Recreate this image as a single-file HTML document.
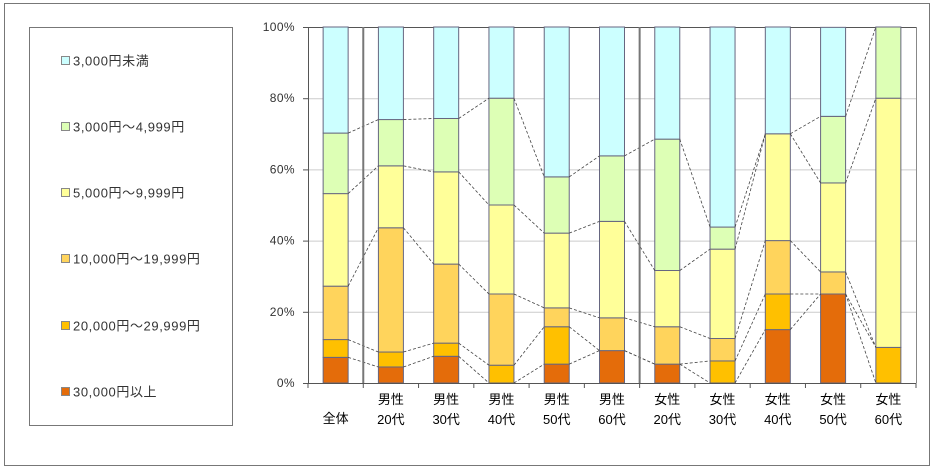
<!DOCTYPE html>
<html><head><meta charset="utf-8"><style>
body{margin:0;background:#fff;}
svg{display:block;font-family:"Liberation Sans","Noto Sans CJK JP",sans-serif;}
</style></head><body>
<svg id="chart" width="934" height="471">
<rect x="4.5" y="3.5" width="925" height="462" fill="#fff" stroke="#777"/>
<g id="legend">
<rect x="29.5" y="27.5" width="203" height="398" fill="#fff" stroke="#777"/>
</g>
<g id="grid"></g><g id="bars"></g><g id="links"></g><g id="axes"></g>
</svg>
<script>
const categories=[["全体"],["男性","20代"],["男性","30代"],["男性","40代"],["男性","50代"],["男性","60代"],["女性","20代"],["女性","30代"],["女性","40代"],["女性","50代"],["女性","60代"]];
const seriesNames=["30,000円以上","20,000円～29,999円","10,000円～19,999円","5,000円～9,999円","3,000円～4,999円","3,000円未満"];
const s30000=[7.2,4.5,7.5,0,5.3,9.1,5.3,0,15,25,0];
const s20000=[5,4.2,3.7,5,10.5,0,0,6.2,10,0,10];
const s10000=[15,34.9,22.2,20,5.3,9.2,10.5,6.3,15,6.2,0];
const s5000=[26,17.4,25.9,25,21,27.1,15.8,25.1,30,25,70];
const s3000=[17,13,15,30,15.8,18.4,36.9,6.2,0,18.7,20];
const sUnder=[29.8,26,25.7,20,42.1,36.2,31.5,56.2,30,25,0];
const yTicks=[0,20,40,60,80,100];
const series=[s30000,s20000,s10000,s5000,s3000,sUnder];
const colors=["#E46C0A","#FFC000","#FFD45C","#FFFF99","#DDFFB5","#CCFFFF"];
const NS="http://www.w3.org/2000/svg";
const X0=308,X1=916,Y0=383,Y1=27,BW=25;
const band=(X1-X0)/categories.length;
const xC=i=>X0+band*(i+0.5);
const y=v=>Y0-(Y0-Y1)*v/100;
function mk(tag,attrs,parent,text){const e=document.createElementNS(NS,tag);for(const k in attrs)e.setAttribute(k,attrs[k]);if(text!==undefined)e.textContent=text;(typeof parent==='string'?document.getElementById(parent):parent).appendChild(e);return e;}
yTicks.forEach(t=>{
 const g=mk('line',{x1:X0,x2:X1,y1:y(t)+0.5,y2:y(t)+0.5,stroke:t===100?'#555':'#ccc','stroke-width':1},'grid');
 
 
 mk('line',{x1:X0-5,x2:X0,y1:y(t)+0.5,y2:y(t)+0.5,stroke:'#555'},'axes');
 const l=mk('text',{x:295,y:y(t)+4,'text-anchor':'end','font-size':12,'letter-spacing':0.4,fill:'#333'},'axes',t+'%');
 
 
});
const cum=categories.map((c,i)=>{let a=0;return series.map(s=>{const b=a;a+=s[i];return [b,a];});});
categories.forEach((c,i)=>{
 series.forEach((s,k)=>{
  const [b,a]=cum[i][k]; if(s[i]<=0) return;
  const r=mk('rect',{x:xC(i)-BW/2,y:y(Math.min(a,100)),width:BW,height:y(b)-y(Math.min(a,100)),fill:colors[k],stroke:'#666680','stroke-width':1},'bars');
  
  
 });
 const lines=c.length===1?[[c[0],423]]:[[c[0],404],[c[1],424]];
 lines.forEach(([t,yy])=>{const tx=mk('text',{x:xC(i),y:yy,'text-anchor':'middle','font-size':13,fill:'#000'},'axes',t);
  
  });
});
for(let i=0;i<categories.length-1;i++){
 for(let k=0;k<5;k++){
  const ln=mk('line',{x1:xC(i)+BW/2,y1:y(cum[i][k][1]),x2:xC(i+1)-BW/2,y2:y(cum[i+1][k][1]),stroke:'#444','stroke-width':0.8,'stroke-dasharray':'3,2'},'links');
  
  
 }
}
mk('line',{x1:X0+0.5,x2:X0+0.5,y1:Y1,y2:Y0,stroke:'#555'},'axes');
mk('line',{x1:X1+0.5,x2:X1+0.5,y1:Y1,y2:Y0,stroke:'#888'},'axes');
mk('line',{x1:X0,x2:X1,y1:Y0+0.5,y2:Y0+0.5,stroke:'#555'},'axes');
for(let i=0;i<=categories.length;i++){mk('line',{x1:X0+band*i,x2:X0+band*i,y1:Y0,y2:Y0+5,stroke:'#555'},'axes');}
[1,6].forEach(i=>{const s=mk('line',{x1:X0+band*i,x2:X0+band*i,y1:Y1,y2:Y0,stroke:'#777','stroke-width':2},'axes');
 
 });
const lys=[392,326,259,193,127,61];
seriesNames.forEach((n,k)=>{
 const g=mk('g',{},'legend');
 
 
 mk('rect',{x:61.5,y:lys[k]-4.5,width:8,height:8,fill:colors[k],stroke:'#888'},g);
 mk('text',{x:73,y:lys[k]+4.5,'font-size':13,'letter-spacing':0.6,fill:'#333'},g,n);
});
</script>
</body></html>
